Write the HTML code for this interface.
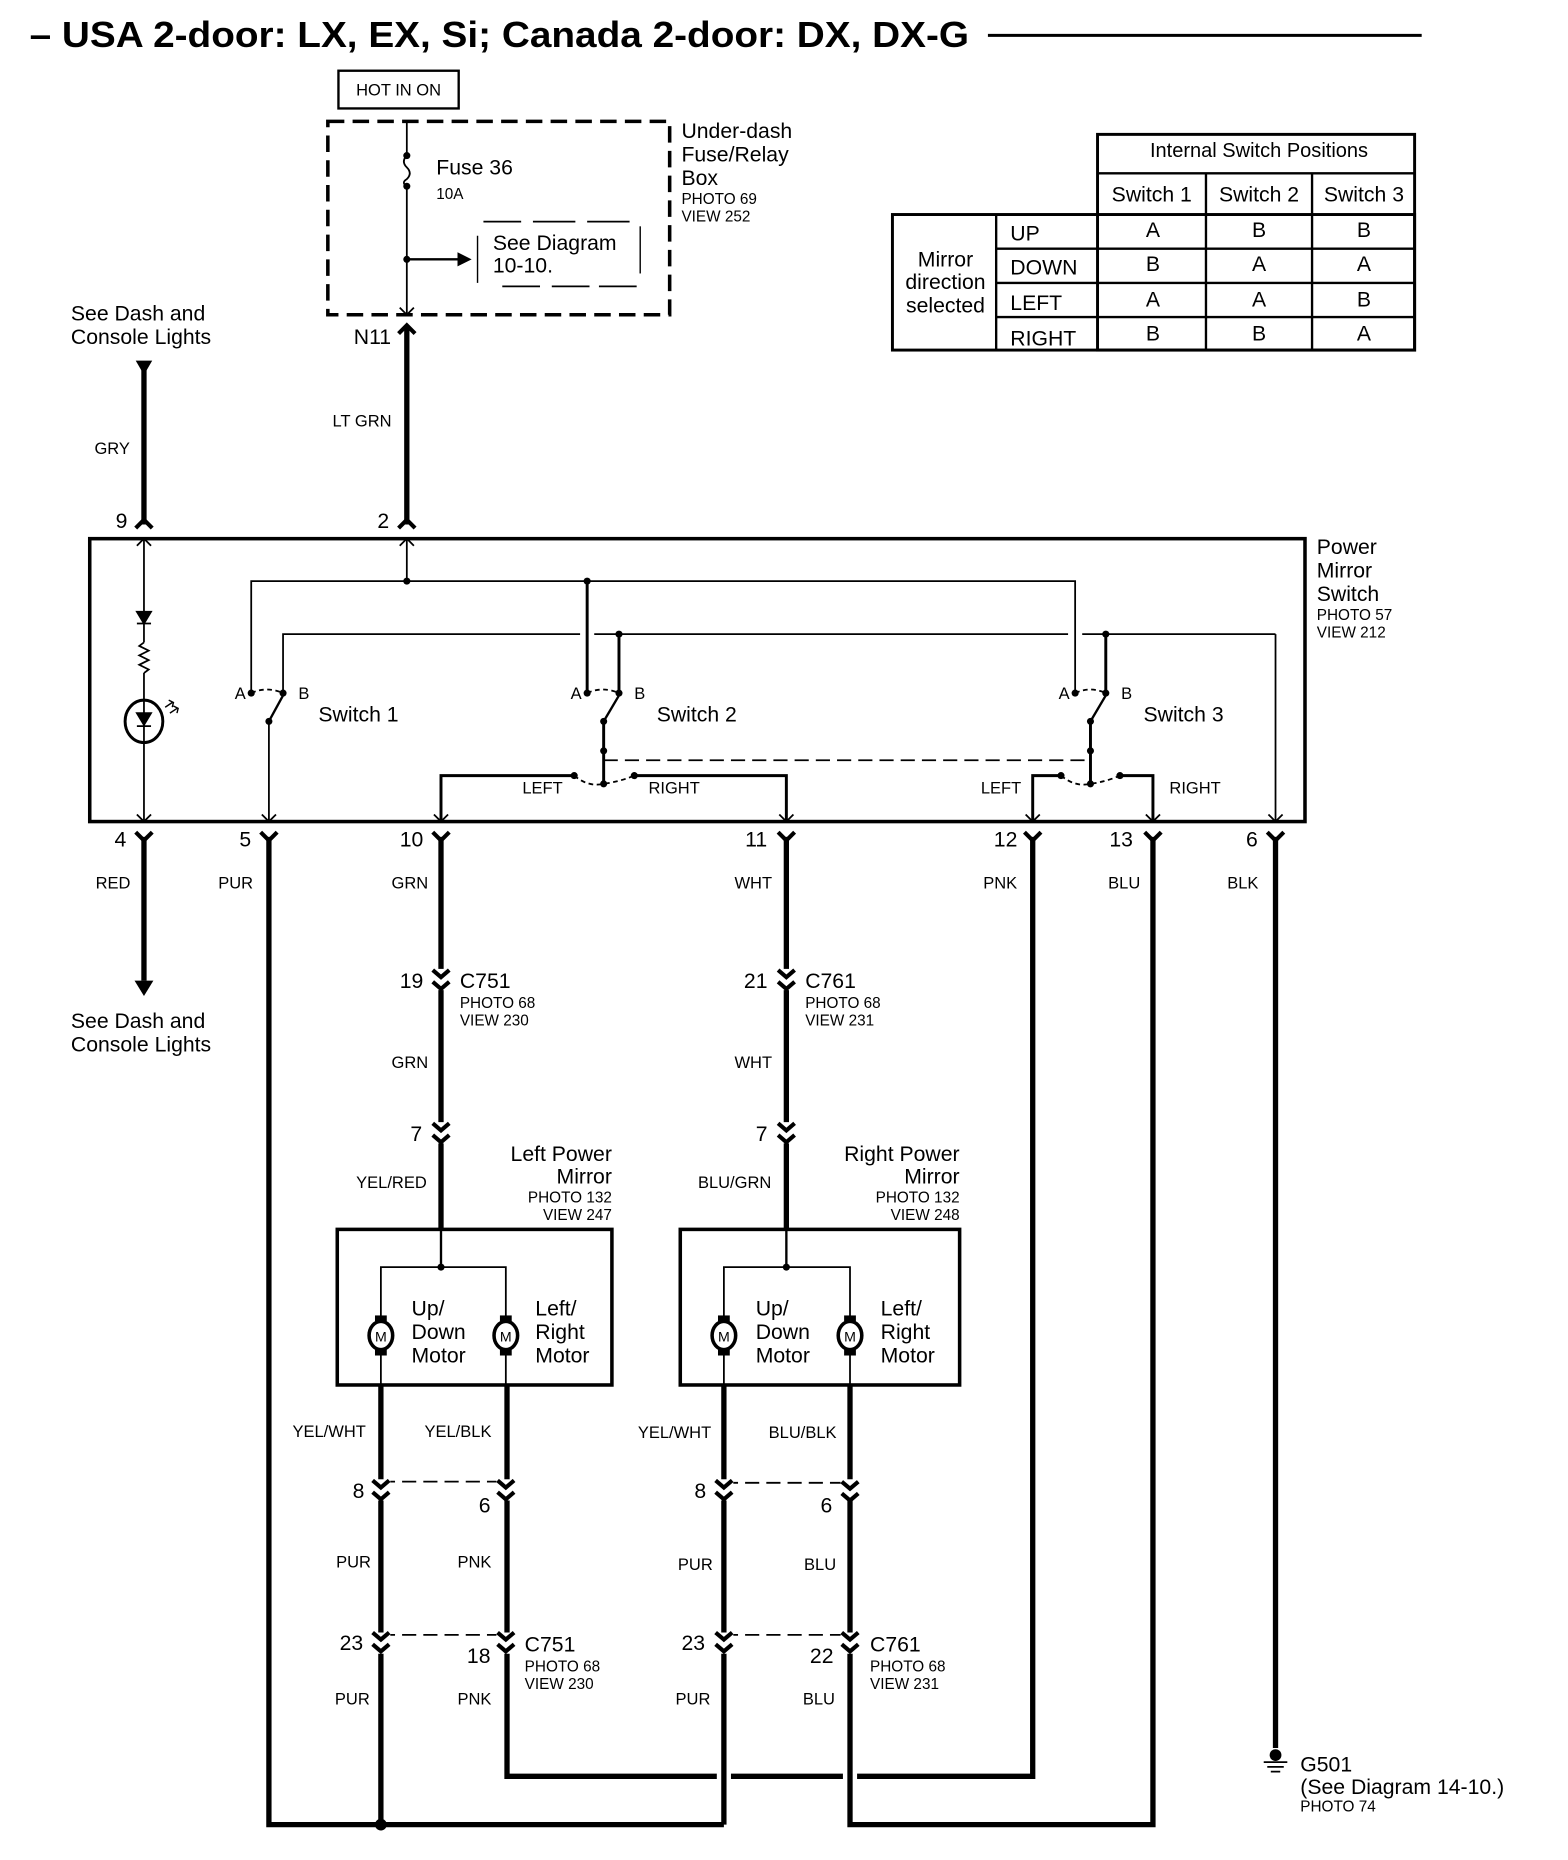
<!DOCTYPE html>
<html><head><meta charset="utf-8"><style>
html,body{margin:0;padding:0;background:#fff}
svg{display:block}
text{font-family:"Liberation Sans",sans-serif;fill:#000}
.s{font-size:14px}.m{font-size:18px}.p{font-size:13px}
</style></head><body>
<svg width="1568" height="1860" viewBox="0 0 1330 1578" xmlns="http://www.w3.org/2000/svg">
<defs>
<g id="cd"><path d="M-7,-7 L0,0 L7,-7" fill="none" stroke="#000" stroke-width="3.5"/></g>
<g id="cu"><path d="M-7,7 L0,0 L7,7" fill="none" stroke="#000" stroke-width="3.5"/></g>
<g id="ic"><path d="M-7,-8 L0,-2 L7,-8 M-7,2 L0,8 L7,2" fill="none" stroke="#000" stroke-width="3.5"/></g>
<g id="motor"><ellipse cx="0" cy="0" rx="10" ry="12" fill="#fff" stroke="#000" stroke-width="3"/><rect x="-5" y="-17" width="10" height="5" fill="#000"/><rect x="-5" y="12" width="10" height="5" fill="#000"/><text x="0" y="5" font-size="12" text-anchor="middle">M</text></g>
</defs>
<!-- title -->
<text x="25" y="40" font-size="31" font-weight="bold" textLength="797" lengthAdjust="spacingAndGlyphs">– USA 2-door: LX, EX, Si; Canada 2-door: DX, DX-G</text>
<line x1="838" y1="30" x2="1206" y2="30" stroke="#000" stroke-width="2.5"/>

<!-- fuse box -->
<rect x="287" y="60" width="102" height="32" fill="none" stroke="#000" stroke-width="2"/>
<text x="338" y="81" class="s" text-anchor="middle">HOT IN ON</text>
<rect x="278" y="103" width="290" height="164" fill="none" stroke="#000" stroke-width="3" stroke-dasharray="14,7"/>
<line x1="345" y1="103" x2="345" y2="132" stroke="#000" stroke-width="1.5"/>
<path d="M345,132 q-5,5 0,10 q5,5 0,10 q-5,3 0,6" fill="none" stroke="#000" stroke-width="1.5"/>
<line x1="345" y1="158" x2="345" y2="267" stroke="#000" stroke-width="1.5"/>
<circle cx="345" cy="132" r="3"/><circle cx="345" cy="158" r="3"/><circle cx="345" cy="220" r="3"/>
<line x1="345" y1="220" x2="390" y2="220" stroke="#000" stroke-width="2"/>
<path d="M388,214 L400,220 L388,226Z"/>
<path d="M339,261 L345,267 L351,261" fill="none" stroke="#000" stroke-width="1.5"/>
<text x="370" y="148" class="m">Fuse 36</text>
<text x="370" y="169" class="p">10A</text>
<path d="M410,188 h32 M452,188 h36 M498,188 h36 M426,243 h32 M468,243 h32 M508,243 h32" stroke="#000" stroke-width="1.5"/>
<line x1="405" y1="200" x2="405" y2="240" stroke="#000" stroke-width="1.2"/>
<line x1="543" y1="192" x2="543" y2="232" stroke="#000" stroke-width="1.2"/>
<text x="418" y="212" class="m">See Diagram</text>
<text x="418" y="231" class="m">10-10.</text>
<text x="578" y="117" class="m">Under-dash</text>
<text x="578" y="137" class="m">Fuse/Relay</text>
<text x="578" y="157" class="m">Box</text>
<text x="578" y="173" class="p">PHOTO 69</text>
<text x="578" y="188" class="p">VIEW 252</text>

<!-- N11 / LT GRN -->
<use href="#cu" x="345" y="276"/>
<line x1="345" y1="277" x2="345" y2="445" stroke="#000" stroke-width="4.5"/>
<text x="300" y="292" class="m">N11</text>
<text x="282" y="362" class="s">LT GRN</text>
<use href="#cu" x="345" y="441"/>
<text x="320" y="448" class="m">2</text>

<!-- GRY -->
<text x="60" y="272" class="m">See Dash and</text>
<text x="60" y="292" class="m">Console Lights</text>
<path d="M115,306 L129,306 L122,318Z"/>
<line x1="122" y1="312" x2="122" y2="445" stroke="#000" stroke-width="4.5"/>
<text x="80" y="385" class="s">GRY</text>
<use href="#cu" x="122" y="441"/>
<text x="98" y="448" class="m">9</text>

<!-- power mirror switch box -->
<rect x="76" y="457" width="1031" height="240" fill="none" stroke="#000" stroke-width="3"/>
<text x="1117" y="470" class="m">Power</text>
<text x="1117" y="490" class="m">Mirror</text>
<text x="1117" y="510" class="m">Switch</text>
<text x="1117" y="526" class="p">PHOTO 57</text>
<text x="1117" y="541" class="p">VIEW 212</text>

<g stroke="#000" stroke-width="1.5" fill="none">
<line x1="122" y1="457" x2="122" y2="545"/>
<path d="M116,463 L122,457 L128,463 M116,691 L122,697 L128,691"/>
<path d="M122,545 l-4,3 l8,4 l-8,4 l8,4 l-8,4 l8,4 l-4,3"/>
<line x1="122" y1="571" x2="122" y2="697"/>
<ellipse cx="122" cy="612" rx="16" ry="18" stroke-width="2.5"/>
<path d="M140,600 l6,-4 m-3,-2 l4,2 l-1,4 M144,605 l6,-4 m-3,-2 l4,2 l-1,4" stroke-width="1.2"/>
<polyline points="213,588 213,493 912,493 912,588"/>
<line x1="345" y1="457" x2="345" y2="493"/>
<path d="M339,463 L345,457 L351,463"/>
<line x1="498" y1="493" x2="498" y2="588" stroke-width="2.5"/>
<polyline points="240,588 240,538 492,538"/>
<line x1="504" y1="538" x2="906" y2="538"/>
<line x1="918" y1="538" x2="1082" y2="538"/>
<line x1="1082" y1="538" x2="1082" y2="697"/>
<line x1="525" y1="538" x2="525" y2="588" stroke-width="2.5"/>
<line x1="938" y1="538" x2="938" y2="588" stroke-width="2.5"/>
<path d="M213,588 q13,-6 27,0" stroke-dasharray="4,3"/>
<line x1="240" y1="590" x2="228" y2="612" stroke-width="2"/>
<line x1="228" y1="612" x2="228" y2="697"/>
<path d="M222,691 L228,697 L234,691"/>
<path d="M498,588 q13,-6 27,0" stroke-dasharray="4,3"/>
<line x1="525" y1="590" x2="512" y2="612" stroke-width="2"/>
<line x1="512" y1="612" x2="512" y2="665" stroke-width="2.5"/>
<line x1="512" y1="645" x2="925" y2="645" stroke-dasharray="12,6"/>
<path d="M487,658 q12,10 25,7 q14,-2 26,-7" stroke-dasharray="4,3"/>
<polyline points="487,658 374,658 374,697" stroke-width="2.5"/>
<polyline points="538,658 667,658 667,697" stroke-width="2.5"/>
<path d="M912,588 q13,-6 26,0" stroke-dasharray="4,3"/>
<line x1="938" y1="590" x2="925" y2="612" stroke-width="2"/>
<line x1="925" y1="612" x2="925" y2="665" stroke-width="2.5"/>
<path d="M900,658 q12,10 25,7 q14,-2 25,-7" stroke-dasharray="4,3"/>
<polyline points="900,658 876,658 876,697" stroke-width="2.5"/>
<polyline points="950,658 978,658 978,697" stroke-width="2.5"/>
<path d="M368,691 L374,697 L380,691 M661,691 L667,697 L673,691 M870,691 L876,697 L882,691 M972,691 L978,697 L984,691 M1076,691 L1082,697 L1088,691"/>
</g>
<path d="M116,519 L128,519 L122,529Z M116,529 h12" stroke="#000" stroke-width="1.5"/>
<path d="M116,605 L128,605 L122,615Z M116,616 h12" stroke="#000" stroke-width="1.5"/>
<g>
<circle cx="213" cy="588" r="3"/><circle cx="240" cy="588" r="3"/><circle cx="228" cy="612" r="3"/>
<circle cx="345" cy="493" r="3"/><circle cx="498" cy="493" r="3"/><circle cx="525" cy="538" r="3"/><circle cx="938" cy="538" r="3"/>
<circle cx="498" cy="588" r="3"/><circle cx="525" cy="588" r="3"/><circle cx="512" cy="612" r="3"/><circle cx="512" cy="637" r="3"/><circle cx="512" cy="665" r="3"/>
<circle cx="487" cy="658" r="3"/><circle cx="538" cy="658" r="3"/>
<circle cx="912" cy="588" r="3"/><circle cx="938" cy="588" r="3"/><circle cx="925" cy="612" r="3"/><circle cx="925" cy="637" r="3"/><circle cx="925" cy="665" r="3"/>
<circle cx="900" cy="658" r="3"/><circle cx="950" cy="658" r="3"/>
</g>
<text x="199" y="593" class="s">A</text><text x="253" y="593" class="s">B</text>
<text x="484" y="593" class="s">A</text><text x="538" y="593" class="s">B</text>
<text x="898" y="593" class="s">A</text><text x="951" y="593" class="s">B</text>
<text x="270" y="612" class="m">Switch 1</text>
<text x="557" y="612" class="m">Switch 2</text>
<text x="970" y="612" class="m">Switch 3</text>
<text x="443" y="673" class="s">LEFT</text><text x="550" y="673" class="s">RIGHT</text>
<text x="832" y="673" class="s">LEFT</text><text x="992" y="673" class="s">RIGHT</text>

<use href="#cd" x="122" y="713"/><use href="#cd" x="228" y="713"/><use href="#cd" x="374" y="713"/><use href="#cd" x="667" y="713"/><use href="#cd" x="876" y="713"/><use href="#cd" x="978" y="713"/><use href="#cd" x="1082" y="713"/>
<text x="97" y="718" class="m">4</text><text x="203" y="718" class="m">5</text><text x="339" y="718" class="m">10</text><text x="632" y="718" class="m">11</text><text x="843" y="718" class="m">12</text><text x="941" y="718" class="m">13</text><text x="1057" y="718" class="m">6</text>
<text x="81" y="754" class="s">RED</text><text x="185" y="754" class="s">PUR</text><text x="332" y="754" class="s">GRN</text><text x="623" y="754" class="s">WHT</text><text x="834" y="754" class="s">PNK</text><text x="940" y="754" class="s">BLU</text><text x="1041" y="754" class="s">BLK</text>

<g stroke="#000" stroke-width="4.5" fill="none">
<line x1="122" y1="710" x2="122" y2="832"/>
<polyline points="228,710 228,1548 614,1548"/>
<line x1="374" y1="710" x2="374" y2="1043"/>
<line x1="667" y1="710" x2="667" y2="1043"/>
<polyline points="876,710 876,1507 727,1507"/>
<line x1="715" y1="1507" x2="620" y2="1507"/>
<polyline points="608,1507 430,1507 430,1175"/>
<polyline points="978,710 978,1548 721,1548 721,1175"/>
<line x1="1082" y1="710" x2="1082" y2="1483"/>
<line x1="323" y1="1175" x2="323" y2="1548"/>
<line x1="614" y1="1175" x2="614" y2="1548"/>
</g>
<path d="M114,832 L130,832 L122,845Z"/>
<text x="60" y="872" class="m">See Dash and</text>
<text x="60" y="892" class="m">Console Lights</text>
<circle cx="323" cy="1548" r="5"/>
<circle cx="1082" cy="1489" r="5"/>
<path d="M1072,1495 h20 M1075,1499 h14 M1078,1503 h8" stroke="#000" stroke-width="1.5"/>
<text x="1103" y="1503" class="m">G501</text>
<text x="1103" y="1522" class="m">(See Diagram 14-10.)</text>
<text x="1103" y="1537" class="p">PHOTO 74</text>

<rect x="366" y="822" width="16" height="18" fill="#fff"/>
<use href="#ic" x="374" y="831"/>
<text x="339" y="838" class="m">19</text>
<text x="390" y="838" class="m">C751</text><text x="390" y="855" class="p">PHOTO 68</text><text x="390" y="870" class="p">VIEW 230</text>
<text x="332" y="906" class="s">GRN</text>
<rect x="366" y="952" width="16" height="18" fill="#fff"/>
<use href="#ic" x="374" y="961"/>
<text x="348" y="968" class="m">7</text>
<text x="302" y="1008" class="s">YEL/RED</text>
<rect x="659" y="822" width="16" height="18" fill="#fff"/>
<use href="#ic" x="667" y="831"/>
<text x="631" y="838" class="m">21</text>
<text x="683" y="838" class="m">C761</text><text x="683" y="855" class="p">PHOTO 68</text><text x="683" y="870" class="p">VIEW 231</text>
<text x="623" y="906" class="s">WHT</text>
<rect x="659" y="952" width="16" height="18" fill="#fff"/>
<use href="#ic" x="667" y="961"/>
<text x="641" y="968" class="m">7</text>
<text x="592" y="1008" class="s">BLU/GRN</text>

<text x="519" y="985" class="m" text-anchor="end">Left Power</text>
<text x="519" y="1004" class="m" text-anchor="end">Mirror</text>
<text x="519" y="1020" class="p" text-anchor="end">PHOTO 132</text>
<text x="519" y="1035" class="p" text-anchor="end">VIEW 247</text>
<text x="814" y="985" class="m" text-anchor="end">Right Power</text>
<text x="814" y="1004" class="m" text-anchor="end">Mirror</text>
<text x="814" y="1020" class="p" text-anchor="end">PHOTO 132</text>
<text x="814" y="1035" class="p" text-anchor="end">VIEW 248</text>
<g stroke="#000" fill="none">
<rect x="286" y="1043" width="233" height="132" stroke-width="3"/>
<rect x="577" y="1043" width="237" height="132" stroke-width="3"/>
<line x1="374" y1="1043" x2="374" y2="1075" stroke-width="2"/>
<polyline points="323,1175 323,1075 429,1075 429,1175" stroke-width="1.5"/>
<line x1="667" y1="1043" x2="667" y2="1075" stroke-width="2"/>
<polyline points="614,1175 614,1075 721,1075 721,1175" stroke-width="1.5"/>
</g>
<circle cx="374" cy="1075" r="3"/><circle cx="667" cy="1075" r="3"/>
<use href="#motor" x="323" y="1133"/><use href="#motor" x="429" y="1133"/>
<use href="#motor" x="614" y="1133"/><use href="#motor" x="721" y="1133"/>
<text x="349" y="1116" class="m">Up/</text><text x="349" y="1136" class="m">Down</text><text x="349" y="1156" class="m">Motor</text>
<text x="454" y="1116" class="m">Left/</text><text x="454" y="1136" class="m">Right</text><text x="454" y="1156" class="m">Motor</text>
<text x="641" y="1116" class="m">Up/</text><text x="641" y="1136" class="m">Down</text><text x="641" y="1156" class="m">Motor</text>
<text x="747" y="1116" class="m">Left/</text><text x="747" y="1136" class="m">Right</text><text x="747" y="1156" class="m">Motor</text>

<text x="248" y="1219" class="s">YEL/WHT</text><text x="360" y="1219" class="s">YEL/BLK</text>
<text x="541" y="1220" class="s">YEL/WHT</text><text x="652" y="1220" class="s">BLU/BLK</text>

<g stroke="#000" stroke-width="1.5" stroke-dasharray="12,6">
<line x1="323" y1="1257" x2="429" y2="1257"/><line x1="614" y1="1258" x2="721" y2="1258"/>
<line x1="323" y1="1387" x2="429" y2="1387"/><line x1="614" y1="1387" x2="721" y2="1387"/>
</g>
<g fill="#fff"><rect x="315" y="1255" width="16" height="18"/><rect x="421" y="1255" width="16" height="18"/><rect x="606" y="1255" width="16" height="18"/><rect x="713" y="1255" width="16" height="18"/>
<rect x="315" y="1385" width="16" height="18"/><rect x="421" y="1385" width="16" height="18"/><rect x="606" y="1385" width="16" height="18"/><rect x="713" y="1385" width="16" height="18"/></g>
<use href="#ic" x="323" y="1264"/><use href="#ic" x="429" y="1264"/><use href="#ic" x="614" y="1264"/><use href="#ic" x="721" y="1265"/>
<use href="#ic" x="323" y="1393"/><use href="#ic" x="429" y="1393"/><use href="#ic" x="614" y="1393"/><use href="#ic" x="721" y="1393"/>
<text x="299" y="1271" class="m">8</text><text x="406" y="1283" class="m">6</text>
<text x="589" y="1271" class="m">8</text><text x="696" y="1283" class="m">6</text>
<text x="285" y="1330" class="s">PUR</text><text x="388" y="1330" class="s">PNK</text>
<text x="575" y="1332" class="s">PUR</text><text x="682" y="1332" class="s">BLU</text>
<text x="288" y="1400" class="m">23</text><text x="396" y="1411" class="m">18</text>
<text x="578" y="1400" class="m">23</text><text x="687" y="1411" class="m">22</text>
<text x="445" y="1401" class="m">C751</text><text x="445" y="1418" class="p">PHOTO 68</text><text x="445" y="1433" class="p">VIEW 230</text>
<text x="738" y="1401" class="m">C761</text><text x="738" y="1418" class="p">PHOTO 68</text><text x="738" y="1433" class="p">VIEW 231</text>
<text x="284" y="1446" class="s">PUR</text><text x="388" y="1446" class="s">PNK</text>
<text x="573" y="1446" class="s">PUR</text><text x="681" y="1446" class="s">BLU</text>

<g stroke="#000" fill="none">
<rect x="931" y="114" width="269" height="183" stroke-width="2.5"/>
<rect x="757" y="182" width="443" height="115" stroke-width="2.5"/>
<line x1="931" y1="147" x2="1200" y2="147" stroke-width="2"/>
<line x1="845" y1="211" x2="1200" y2="211" stroke-width="2"/>
<line x1="845" y1="240" x2="1200" y2="240" stroke-width="2"/>
<line x1="845" y1="269" x2="1200" y2="269" stroke-width="2"/>
<line x1="845" y1="182" x2="845" y2="297" stroke-width="2"/>
<line x1="1023" y1="147" x2="1023" y2="297" stroke-width="2"/>
<line x1="1113" y1="147" x2="1113" y2="297" stroke-width="2"/>
</g>
<text x="1068" y="133" text-anchor="middle" font-size="17">Internal Switch Positions</text>
<text x="977" y="171" class="m" text-anchor="middle">Switch 1</text>
<text x="1068" y="171" class="m" text-anchor="middle">Switch 2</text>
<text x="1157" y="171" class="m" text-anchor="middle">Switch 3</text>
<text x="802" y="226" class="m" text-anchor="middle">Mirror</text>
<text x="802" y="245" class="m" text-anchor="middle">direction</text>
<text x="802" y="265" class="m" text-anchor="middle">selected</text>
<text x="857" y="204" class="m">UP</text><text x="857" y="233" class="m">DOWN</text><text x="857" y="263" class="m">LEFT</text><text x="857" y="293" class="m">RIGHT</text>
<g text-anchor="middle">
<text x="978" y="201" class="m">A</text><text x="1068" y="201" class="m">B</text><text x="1157" y="201" class="m">B</text>
<text x="978" y="230" class="m">B</text><text x="1068" y="230" class="m">A</text><text x="1157" y="230" class="m">A</text>
<text x="978" y="260" class="m">A</text><text x="1068" y="260" class="m">A</text><text x="1157" y="260" class="m">B</text>
<text x="978" y="289" class="m">B</text><text x="1068" y="289" class="m">B</text><text x="1157" y="289" class="m">A</text>
</g>
</svg>
</body></html>
